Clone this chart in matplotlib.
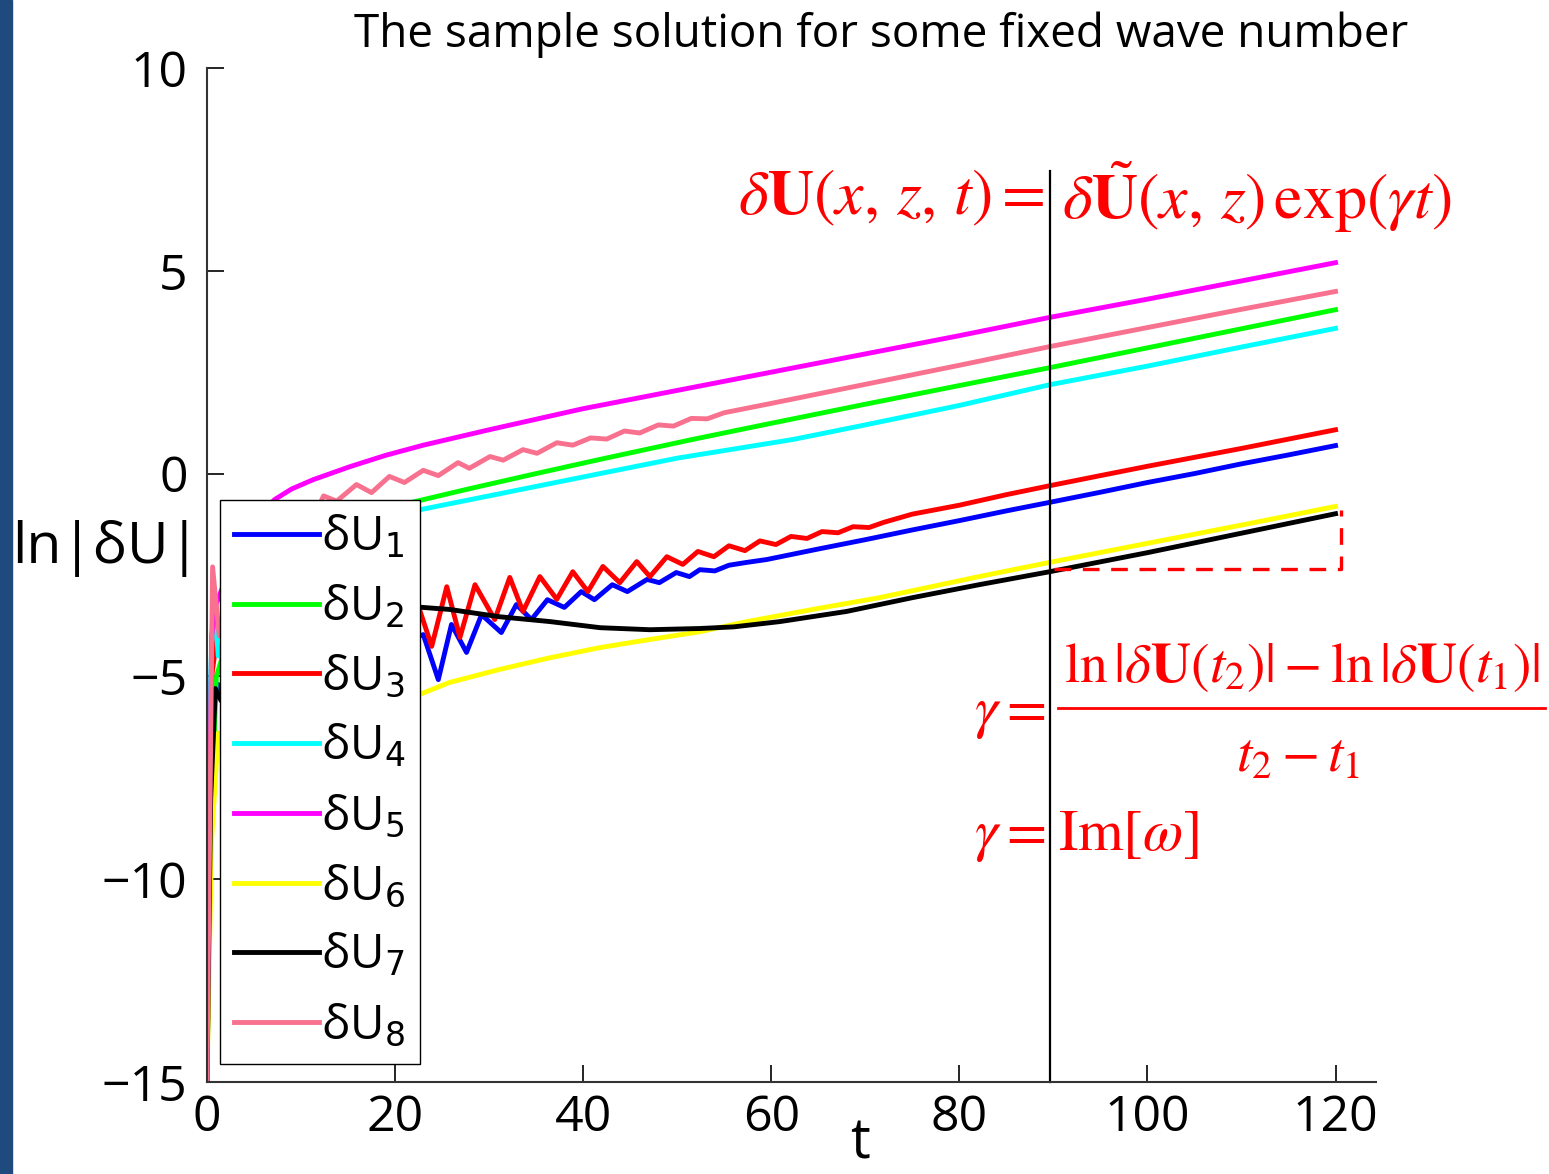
import matplotlib
matplotlib.use('Agg')
import matplotlib.pyplot as plt
from matplotlib.patches import Rectangle

# ---- data (t, ln|dU|) ----
t_u1 = [0, 0.5, 1.2, 3, 5, 7, 9, 11, 13, 15, 17, 19, 20.5, 21.5, 22.1, 23.0, 24.6, 26.0, 27.6, 29.2,
        31.3, 32.9, 34.5, 36.2, 38.0, 39.8, 41.2, 43.1, 44.7, 46.8, 48.1, 49.9, 51.3, 52.4, 54.0, 55.5,
        57.4, 59.5, 65, 70, 75, 80, 85, 89.6, 95, 100, 105, 110, 115, 120]
u1 = [-15, -6.0, -5.2, -6.5, -5.3, -6.4, -5.2, -6.2, -5.1, -6.0, -4.9, -5.8, -4.6, -5.9, -4.05, -3.97,
      -5.08, -3.72, -4.41, -3.48, -3.92, -3.23, -3.6, -3.11, -3.3, -2.91, -3.11, -2.74, -2.91, -2.61,
      -2.69, -2.44, -2.54, -2.37, -2.40, -2.26, -2.19, -2.12, -1.86, -1.63, -1.39, -1.16, -0.92, -0.71,
      -0.46, -0.22, 0.0, 0.24, 0.46, 0.69]

t_u2 = [0, 0.4, 1.0, 3, 6, 10, 15, 21.6, 27.6, 35, 41.8, 51.6, 60, 70, 80, 89.6, 100, 110, 120]
u2 = [-15, -9, -5, -3.5, -2.4, -1.7, -1.15, -0.72, -0.39, 0.0, 0.35, 0.84, 1.24, 1.71, 2.17, 2.61,
      3.1, 3.57, 4.04]

t_u3 = [0, 0.5, 1.2, 3.0, 4.6, 6.2, 7.9, 9.5, 11.2, 12.8, 14.5, 16.1, 17.8, 19.4, 21.2, 21.9, 23.9,
        25.5, 26.9, 28.5, 30.6, 32.2, 33.6, 35.4, 37.2, 38.9, 40.5, 42.1, 43.9, 45.7, 47.1, 48.9, 50.6,
        52.2, 53.9, 55.5, 57.2, 58.8, 60.5, 62.1, 63.8, 65.4, 67.1, 68.7, 70.4, 72.0, 75, 80, 85, 89.6,
        95, 100, 105, 110, 115, 120]
u3 = [-15, -5.0, -3.8, -4.6, -2.6, -4.6, -2.7, -4.5, -2.7, -4.4, -2.8, -4.4, -2.8, -4.3, -2.7, -2.86,
      -4.26, -2.79, -4.04, -2.74, -3.6, -2.56, -3.4, -2.54, -3.1, -2.42, -2.91, -2.29, -2.69, -2.17,
      -2.54, -2.05, -2.24, -1.92, -2.05, -1.78, -1.9, -1.66, -1.75, -1.55, -1.60, -1.43, -1.46, -1.31,
      -1.33, -1.20, -1.0, -0.78, -0.52, -0.3, -0.05, 0.18, 0.40, 0.62, 0.85, 1.08]

t_u4 = [0, 0.3, 0.7, 1.2, 3, 6, 10, 15, 21.6, 30, 41.8, 50, 62.3, 70, 80, 89.6, 100, 110, 120]
u4 = [-15, -5.7, -2.8, -4.5, -3.6, -2.8, -2.1, -1.5, -0.94, -0.55, 0.0, 0.38, 0.84, 1.2, 1.68, 2.19,
      2.65, 3.12, 3.58]

t_u5 = [0, 0.5, 1, 3, 5, 7.2, 9, 11.3, 15.2, 19, 23, 30, 40, 50, 60, 70, 80, 89.6, 100, 110, 120]
u5 = [-15, -4, -3.2, -2.0, -1.2, -0.64, -0.38, -0.15, 0.17, 0.45, 0.7, 1.08, 1.6, 2.05, 2.5, 2.95,
      3.4, 3.85, 4.3, 4.75, 5.2]

t_u6 = [0, 0.5, 1.2, 5, 10, 15, 21.8, 25.8, 31.1, 36.5, 41.8, 47.1, 52.4, 57.4, 64.4, 71.5, 82.1,
        89.6, 100, 110, 120]
u6 = [-15, -9, -6.4, -6.8, -6.6, -6.15, -5.52, -5.15, -4.83, -4.54, -4.29, -4.09, -3.9, -3.65, -3.35,
      -3.06, -2.54, -2.19, -1.72, -1.27, -0.81]

t_u7 = [0, 0.4, 0.9, 1.5, 4, 8, 12, 16, 21.8, 25.8, 31.1, 36.5, 41.8, 47.1, 52.4, 56, 60.9, 68, 75,
        82.1, 89.6, 100, 110, 120]
u7 = [-15, -8, -5.3, -5.6, -4.5, -3.8, -3.4, -3.25, -3.28, -3.35, -3.53, -3.65, -3.8, -3.85, -3.82,
      -3.78, -3.65, -3.4, -3.06, -2.74, -2.42, -1.95, -1.47, -0.99]

t_u8 = [0, 0.6, 1.3, 3, 5, 6.7, 8.4, 10.1, 12.4, 13.8, 15.9, 17.5, 19.4, 21.0, 23.0, 24.6, 26.7, 27.9,
        30.1, 31.5, 33.6, 35.1, 37.2, 38.9, 40.8, 42.5, 44.4, 46.0, 48.0, 49.6, 51.5, 53.2, 55, 60, 70,
        80, 89.6, 100, 110, 120]
u8 = [-15, -2.3, -4.0, -3.2, -2.0, -2.6, -1.3, -1.7, -0.55, -0.68, -0.27, -0.47, -0.07, -0.22, 0.08,
      -0.05, 0.27, 0.13, 0.42, 0.33, 0.59, 0.5, 0.76, 0.7, 0.88, 0.85, 1.05, 1.0, 1.2, 1.17, 1.36,
      1.35, 1.5, 1.73, 2.2, 2.67, 3.13, 3.6, 4.05, 4.49]

labels = ['δU$_1$', 'δU$_2$', 'δU$_3$', 'δU$_4$', 'δU$_5$', 'δU$_6$', 'δU$_7$', 'δU$_8$']
colors = ['#0000ff', '#00ff00', '#ff0000', '#00ffff', '#ff00ff', '#ffff00', '#000000', '#f8718f']

# marker line at t1 and the dashed "rise" box
t_mark = 89.6
mark_top = 7.45
box_t = [90.1, 120.6]
box_y = [-2.35, -0.9]

x_ticks = [0, 20, 40, 60, 80, 100, 120]
y_ticks = [-15, -10, -5, 0, 5, 10]

plt.rcParams['font.family'] = ['Open Sans', 'DejaVu Sans']

fig = plt.figure(figsize=(15.49, 11.74), dpi=100)
fig.patches.append(Rectangle((0, 0), 12 / 1549, 1, transform=fig.transFigure,
                             color='#1f4a7e', zorder=0))
ax = fig.add_axes([0.1336, 0.0784, 0.7547, 0.8637])

ts = [t_u1, t_u2, t_u3, t_u4, t_u5, t_u6, t_u7, t_u8]
us = [u1, u2, u3, u4, u5, u6, u7, u8]
for t, u, c, lab in zip(ts, us, colors, labels):
    ax.plot(t, u, color=c, lw=3.5, label=lab)

ax.plot([t_mark, t_mark], [-15, mark_top], color='black', lw=1.6, clip_on=False)
ax.plot([box_t[0], box_t[1], box_t[1]], [box_y[0], box_y[0], box_y[1]], color='red',
        lw=2.4, dashes=(5, 3.5))

ax.set_xlim(0, 124.3)
ax.set_ylim(-15, 10)
ax.set_xticks(x_ticks)
ax.set_yticks(y_ticks)
ax.spines['top'].set_visible(False)
ax.spines['right'].set_visible(False)
for s in ['left', 'bottom']:
    ax.spines[s].set_color('#333333')
    ax.spines[s].set_linewidth(1.5)
ax.tick_params(direction='in', length=12, width=1.2, labelsize=36)
ax.tick_params(axis='y', pad=14)
ax.tick_params(axis='x', pad=8)

leg = ax.legend(loc='upper left', bbox_to_anchor=(0.011, 0.574), borderaxespad=0,
                fontsize=34, handlelength=1.8, handletextpad=0.05, borderpad=0.3,
                labelspacing=0.47, fancybox=False, framealpha=1, edgecolor='black')
leg.get_frame().set_linewidth(1.0)

fig.text(0.569, 0.970, 'The sample solution for some fixed wave number', fontsize=33,
         ha='center', va='center')
fig.text(0.008, 0.533, 'ln|δU|', fontsize=41, ha='left', va='center')
fig.text(0.555, 0.001, 't', fontsize=40, ha='center', va='bottom')

# formulas
red = '#ff0000'
mkw = dict(color=red, math_fontfamily='stix', va='center')
fig.text(1045 / 1549, 1 - 197 / 1174, r'$\delta\mathbf{U}(x,\, z,\, t) =$', fontsize=46,
         ha='right', **mkw)
fig.text(1062 / 1549, 1 - 197 / 1174, r'$\delta\tilde{\mathbf{U}}(x,\, z)\,\mathrm{exp}(\gamma t)$',
         fontsize=46, ha='left', **mkw)

fig.text(1045 / 1549, 1 - 712 / 1174, r'$\gamma =$', fontsize=42, ha='right', **mkw)
fig.text(1302 / 1549, 1 - 668 / 1174,
         r'$\mathrm{ln}\,|\delta\mathbf{U}(t_2)| - \mathrm{ln}\,|\delta\mathbf{U}(t_1)|$',
         fontsize=40, ha='center', **mkw)
fig.add_artist(plt.Line2D([1058 / 1549, 1545 / 1549], [1 - 708 / 1174, 1 - 708 / 1174],
                          color=red, lw=2))
fig.text(1298 / 1549, 1 - 757 / 1174, r'$t_2 - t_1$', fontsize=40, ha='center', **mkw)

fig.text(1045 / 1549, 1 - 835 / 1174, r'$\gamma =$', fontsize=42, ha='right', **mkw)
fig.text(1058 / 1549, 1 - 835 / 1174, r'$\mathrm{Im}[\omega]$', fontsize=42, ha='left', **mkw)

fig.savefig('out.png', dpi=100)
